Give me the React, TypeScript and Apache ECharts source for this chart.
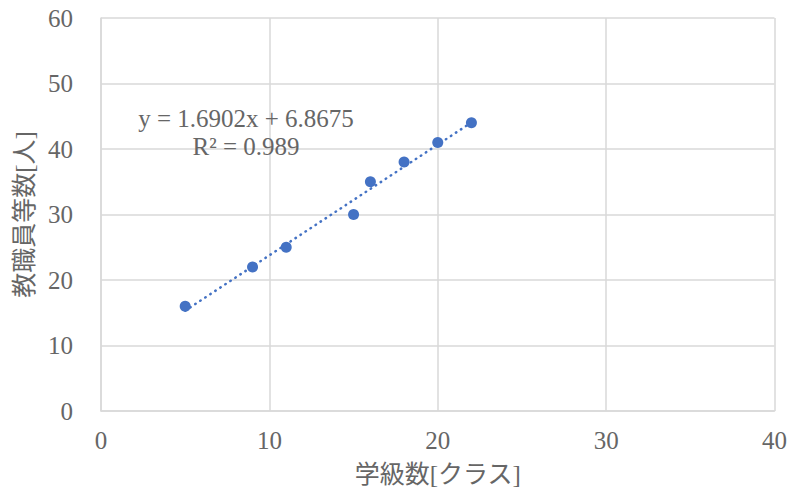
import React, { useEffect, useRef } from "react";
import * as echarts from "echarts";

// Number of classes vs. number of teaching staff per school
const classCounts = [5, 9, 11, 15, 16, 18, 20, 22];
const staffCounts = [16, 22, 25, 30, 35, 38, 41, 44];

// Linear trendline as stated in the label
const slope = 1.6902;
const intercept = 6.8675;
const rSquared = 0.989;

const xTitle = "学級数[クラス]";
const yTitle = "教職員等数[人]";

const BLUE = "#4472C4";
const GREY_TEXT = "#666666";
const GRID = "#D9D9D9";
const SERIF = '"Liberation Serif", "Times New Roman", "Noto Sans CJK JP", serif';

export default function App() {
  const ref = useRef<HTMLDivElement>(null);

  useEffect(() => {
    if (!ref.current) return;
    const chart = echarts.init(ref.current, undefined, { renderer: "svg" });

    const points = classCounts.map((x, i) => [x, staffCounts[i]]);
    const xMin = Math.min(...classCounts);
    const xMax = Math.max(...classCounts);
    const trend = [
      [xMin, slope * xMin + intercept],
      [xMax, slope * xMax + intercept],
    ];

    chart.setOption({
      animation: false,
      backgroundColor: "#ffffff",
      textStyle: { fontFamily: SERIF },
      grid: { left: 101, right: 14, top: 18, bottom: 87, containLabel: false },
      xAxis: {
        type: "value",
        min: 0,
        max: 40,
        interval: 10,
        name: xTitle,
        nameLocation: "middle",
        nameGap: 51,
        nameTextStyle: { color: GREY_TEXT, fontSize: 25, fontFamily: SERIF },
        axisLine: { show: true, lineStyle: { color: GRID, width: 1.5 } },
        axisTick: { show: false },
        axisLabel: { color: GREY_TEXT, fontSize: 25, margin: 17, fontFamily: SERIF },
        splitLine: { show: true, lineStyle: { color: GRID, width: 1.5 } },
      },
      yAxis: {
        type: "value",
        min: 0,
        max: 60,
        interval: 10,
        name: yTitle,
        nameLocation: "middle",
        nameGap: 64,
        nameRotate: 90,
        nameTextStyle: { color: GREY_TEXT, fontSize: 25, fontFamily: SERIF },
        axisLine: { show: true, lineStyle: { color: GRID, width: 1.5 } },
        axisTick: { show: false },
        axisLabel: { color: GREY_TEXT, fontSize: 25, margin: 28, fontFamily: SERIF },
        splitLine: { show: true, lineStyle: { color: GRID, width: 1.5 } },
      },
      graphic: [
        {
          type: "text",
          x: 246,
          y: 132,
          style: {
            text: `y = ${slope}x + ${intercept}\nR² = ${rSquared}`,
            fill: GREY_TEXT,
            font: `25px ${SERIF}`,
            lineHeight: 28,
            align: "center",
            verticalAlign: "middle",
          },
          z: 10,
        },
      ],
      series: [
        {
          type: "line",
          data: trend,
          showSymbol: false,
          symbol: "none",
          silent: true,
          lineStyle: { color: BLUE, width: 2.5, type: [0.5, 5.5], cap: "round" },
          z: 2,
        },
        {
          type: "scatter",
          data: points,
          symbol: "circle",
          symbolSize: 11,
          itemStyle: { color: BLUE, opacity: 1 },
          z: 3,
        },
      ],
    });

    return () => chart.dispose();
  }, []);

  return (
    <div
      ref={ref}
      style={{ position: "fixed", left: 0, top: 0, width: 790, height: 498 }}
    />
  );
}
